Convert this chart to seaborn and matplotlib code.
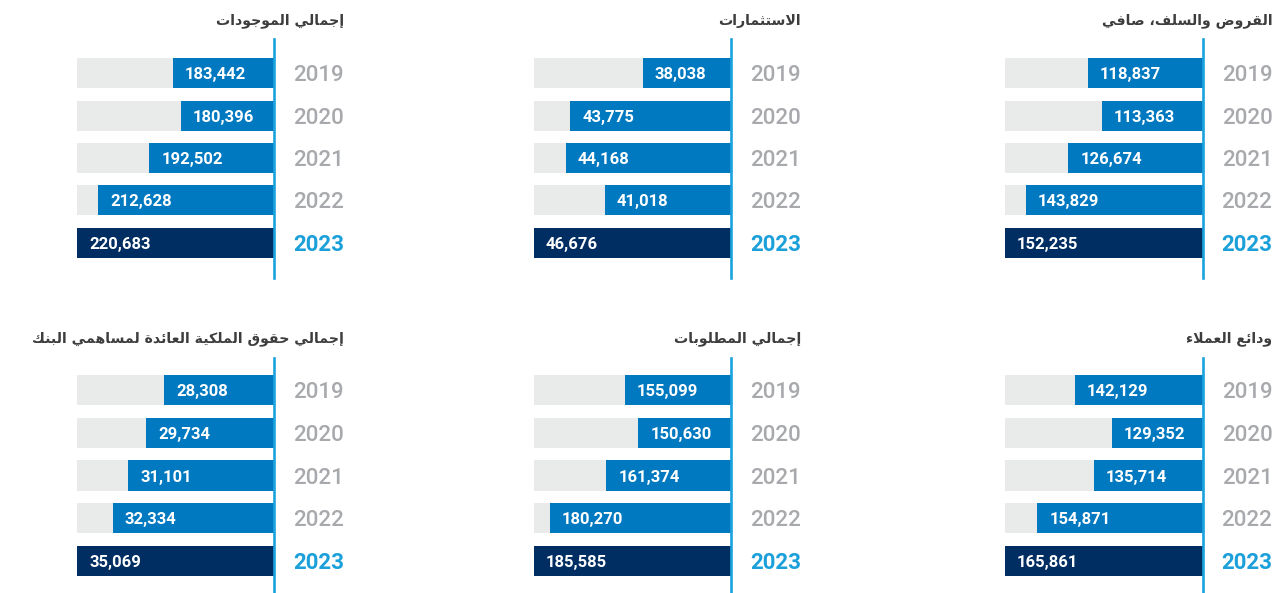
import matplotlib.pyplot as plt
import seaborn as sns

years = ["2019", "2020", "2021", "2022", "2023"]

loans = [118837, 113363, 126674, 143829, 152235]
investments = [38038, 43775, 44168, 41018, 46676]
total_assets = [183442, 180396, 192502, 212628, 220683]
deposits = [142129, 129352, 135714, 154871, 165861]
total_liabilities = [155099, 150630, 161374, 180270, 185585]
equity = [28308, 29734, 31101, 32334, 35069]

titles = [
    "القروض والسلف، صافي",
    "الاستثمارات",
    "إجمالي الموجودات",
    "ودائع العملاء",
    "إجمالي المطلوبات",
    "إجمالي حقوق الملكية العائدة لمساهمي البنك",
]
series = [loans, investments, total_assets, deposits, total_liabilities, equity]

# where each axis starts on the right (the bars are not drawn from zero)
axis_start = [72700, 31000, 143900, 98600, 119600, 19800]

# layout in pixels: (grey left edge, line x) per column, (top, bottom, ylim) per row
W, H = 1285, 593
cols = [(1005, 1202.5), (534, 731), (77.3, 274)]
rows = [(39, 278, (4.83, -0.81)), (357.7, 600, (4.92, -0.765))]
title_y = [21, 339]

GREY_TRACK = "#E9EBEA"
BLUE = "#0079C1"
NAVY = "#002D62"
LINE = "#1BA3DE"
YEAR_GREY = "#A7A9AC"
YEAR_BLUE = "#1BA0DA"
TITLE = "#3D3D3D"


def shape_arabic(text):
    # matplotlib has no arabic shaping: pick presentation forms and reverse
    forms = {
        "ء": (0xFE80, 0), "آ": (0xFE81, 1), "أ": (0xFE83, 1), "ؤ": (0xFE85, 1),
        "إ": (0xFE87, 1), "ئ": (0xFE89, 2), "ا": (0xFE8D, 1), "ب": (0xFE8F, 2),
        "ة": (0xFE93, 1), "ت": (0xFE95, 2), "ث": (0xFE99, 2), "ج": (0xFE9D, 2),
        "ح": (0xFEA1, 2), "خ": (0xFEA5, 2), "د": (0xFEA9, 1), "ذ": (0xFEAB, 1),
        "ر": (0xFEAD, 1), "ز": (0xFEAF, 1), "س": (0xFEB1, 2), "ش": (0xFEB5, 2),
        "ص": (0xFEB9, 2), "ض": (0xFEBD, 2), "ط": (0xFEC1, 2), "ظ": (0xFEC5, 2),
        "ع": (0xFEC9, 2), "غ": (0xFECD, 2), "ف": (0xFED1, 2), "ق": (0xFED5, 2),
        "ك": (0xFED9, 2), "ل": (0xFEDD, 2), "م": (0xFEE1, 2), "ن": (0xFEE5, 2),
        "ه": (0xFEE9, 2), "و": (0xFEED, 1), "ى": (0xFEEF, 1), "ي": (0xFEF1, 2),
    }
    lam_alef = {"ا": 0xFEFB, "أ": 0xFEF7, "إ": 0xFEF9, "آ": 0xFEF5}

    tokens = []
    i = 0
    while i < len(text):
        ch = text[i]
        if ch == "ل" and i + 1 < len(text) and text[i + 1] in lam_alef:
            tokens.append((lam_alef[text[i + 1]], 1))
            i += 2
            continue
        if ch in forms:
            tokens.append(forms[ch])
        else:
            tokens.append((ch, None))
        i += 1

    out = []
    for k, (base, kind) in enumerate(tokens):
        if kind is None:
            out.append(base)
            continue
        prev = k > 0 and tokens[k - 1][1] == 2 and kind in (1, 2)
        nxt = kind == 2 and k + 1 < len(tokens) and tokens[k + 1][1] in (1, 2)
        if kind == 0:
            code = base
        elif kind == 1:
            code = base + 1 if prev else base
        elif prev and nxt:
            code = base + 3
        elif prev:
            code = base + 1
        elif nxt:
            code = base + 2
        else:
            code = base
        out.append(chr(code))
    return "".join(reversed(out))


sns.set_style("white")
plt.rcParams["font.family"] = ["Roboto", "DejaVu Sans"]

fig = plt.figure(figsize=(W / 100, H / 100), dpi=100)

for idx, (vals, title) in enumerate(zip(series, titles)):
    r, c = divmod(idx, 3)
    x0, x1 = cols[c]
    top, bottom, ylim = rows[r]
    ax = fig.add_axes([x0 / W, 1 - bottom / H, (x1 - x0) / W, (bottom - top) / H])

    track = [max(vals)] * len(vals)
    sns.barplot(x=track, y=years, color=GREY_TRACK, saturation=1, width=0.71,
                linewidth=0, errorbar=None, orient="h", ax=ax)
    palette = [BLUE] * (len(years) - 1) + [NAVY]
    sns.barplot(x=vals, y=years, hue=years, palette=palette, saturation=1, width=0.71,
                linewidth=0, errorbar=None, orient="h", legend=False, ax=ax)

    ax.set_xlim(max(vals), axis_start[idx])
    ax.set_ylim(*ylim)
    ax.set_xlabel("")
    ax.set_ylabel("")
    ax.set_xticks([])
    for side in ["top", "left", "bottom"]:
        ax.spines[side].set_visible(False)
    ax.spines["right"].set_color(LINE)
    ax.spines["right"].set_linewidth(1.9)
    ax.patch.set_alpha(0)

    for i, v in enumerate(vals):
        ax.annotate(f"{v:,}", xy=(v, i), xytext=(8.6, 0), textcoords="offset points",
                    ha="left", va="center_baseline", color="white",
                    fontsize=12, fontweight="bold")

    ax.yaxis.tick_right()
    ax.tick_params(axis="y", length=0, pad=50.4, labelsize=16)
    for i, lbl in enumerate(ax.get_yticklabels()):
        lbl.set_ha("right")
        lbl.set_va("center_baseline")
        if i == len(years) - 1:
            lbl.set_color(YEAR_BLUE)
            lbl.set_fontweight("bold")
        else:
            lbl.set_color(YEAR_GREY)
            lbl.set_fontweight("medium")

    fig.text((x1 + 70) / W, 1 - title_y[r] / H, shape_arabic(title),
             ha="right", va="center", fontsize=10.2, fontweight="bold",
             color=TITLE, family="DejaVu Sans")

fig.savefig("out.png", dpi=100)
